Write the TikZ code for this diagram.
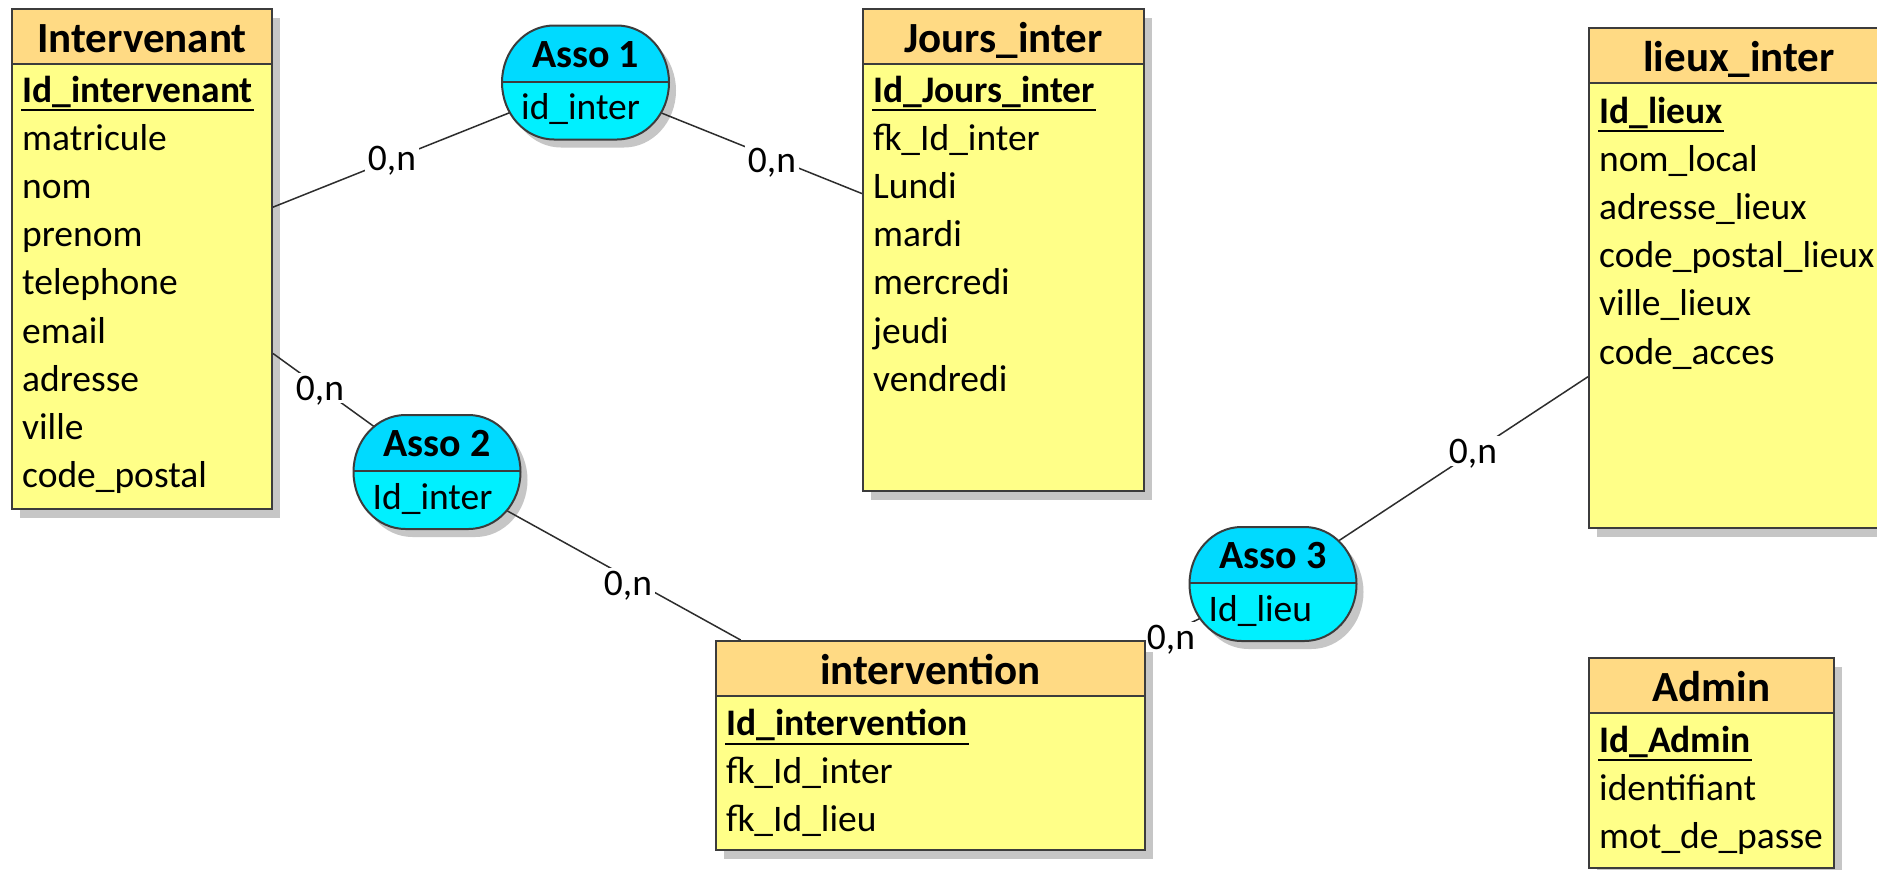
\documentclass[tikz,border=0pt]{standalone}
\usepackage{fontspec}
\setmainfont{Carlito}
\usetikzlibrary{calc,shapes.misc}
\pgfdeclarelayer{shadowlayer}
\pgfdeclarelayer{linelayer}
\pgfsetlayers{shadowlayer,linelayer,main}
\definecolor{hdrc}{RGB}{255,218,132}
\definecolor{bodyc}{RGB}{255,255,136}
\definecolor{cyantop}{RGB}{0,218,255}
\definecolor{cyanbot}{RGB}{0,240,255}
\definecolor{shadowc}{RGB}{198,198,198}
\definecolor{edgec}{RGB}{60,60,60}
\definecolor{linec}{RGB}{45,45,45}
\tikzset{
 entbox/.style={draw=edgec, line width=2pt, fill=bodyc, inner sep=0pt},
 hdrbox/.style={draw=edgec, line width=2pt, fill=hdrc},
 hdrtxt/.style={font=\fontsize{43}{50}\selectfont\bfseries, inner sep=0pt, text height=27.7pt, text depth=0pt},
 rowtxt/.style={font=\fontsize{37.5}{45}\selectfont, inner sep=0pt, text height=24pt, text depth=0pt, anchor=west},
 pktxt/.style={rowtxt, font=\fontsize{37.5}{45}\selectfont\bfseries},
 ulline/.style={draw=black, line width=2pt},
 assonode/.style={rounded rectangle, minimum width=167pt, minimum height=114pt, inner sep=0pt, draw=none},
 assottl/.style={font=\fontsize{40}{48}\selectfont\bfseries, inner sep=0pt, text height=25.8pt, text depth=0pt},
 assoedge/.style={draw=edgec, line width=2pt},
 conn/.style={draw=linec, line width=1.5pt},
 card/.style={font=\fontsize{37.5}{45}\selectfont, fill=white, inner sep=3pt, text height=24pt, text depth=0pt},
}
\def\assopath{(-31.5,-57) -- (31.5,-57) .. controls (60.2,-57) and (83.5,-31.48) .. (83.5,0) .. controls (83.5,31.48) and (60.2,57) .. (31.5,57) -- (-31.5,57) .. controls (-60.2,57) and (-83.5,31.48) .. (-83.5,0) .. controls (-83.5,-31.48) and (-60.2,-57) .. (-31.5,-57) -- cycle}
\newcommand\mkent[7]{%
  \node[entbox, minimum width={(#4-#2)*1pt}, minimum height={(#6-#3)*1pt}] (#1) at ({(#2+#4)/2},{(#3+#6)/2}) {};
  \path[hdrbox] (#2,#3) rectangle (#4,#5);
  \node[hdrtxt] (#1-t) at ({(#2+#4)/2},{#3+29.5}) {#7};
  \begin{pgfonlayer}{shadowlayer}
    \fill[shadowc] ({#2+8},{#3+9}) rectangle ({#4+8},{#6+9});
  \end{pgfonlayer}
}
\newcommand\mkpk[4]{%
  \node[pktxt] (#1) at (#2,#3) {#4};
  \draw[ulline] ($(#1.west)+(-1,20)$) -- ($(#1.east)+(1,20)$);
}
\newcommand\mkasso[5]{%
  \node[assonode] (#1) at (#2,#3) {};
  \begin{pgfonlayer}{shadowlayer}
    \begin{scope}[shift={({#2+7},{#3+8})}]
      \fill[shadowc] \assopath;
    \end{scope}
  \end{pgfonlayer}
  \begin{scope}[shift={(#2,#3)}]
    \begin{scope}
      \clip \assopath;
      \fill[cyantop] (-90,-60) rectangle (90,-1);
      \fill[cyanbot] (-90,-1) rectangle (90,60);
    \end{scope}
    \draw[assoedge] \assopath;
    \draw[assoedge] (-83.5,-1) -- (83.5,-1);
  \end{scope}
  \node[assottl] (#1-t) at (#2,{#3-28}) {#4};
  \node[rowtxt] (#1-a) at ({#2-64.5},{#3+25}) {#5};
}
\begin{document}
\begin{tikzpicture}[x=1pt,y=-1pt]
\begin{pgfonlayer}{shadowlayer}
\fill[white] (0,0) rectangle (1877,870);
\end{pgfonlayer}
\useasboundingbox (0,0) rectangle (1877,870);

% Intervenant
\mkent{int}{12}{9}{272}{64}{509}{Intervenant}
\mkpk{int-1}{22}{90}{Id\_intervenant}
\node[rowtxt] (int-2) at (22,138.2) {matricule};
\node[rowtxt] (int-3) at (22,186.4) {nom};
\node[rowtxt] (int-4) at (22,234.6) {prenom};
\node[rowtxt] (int-5) at (22,282.8) {telephone};
\node[rowtxt] (int-6) at (22,331.0) {email};
\node[rowtxt] (int-7) at (22,379.2) {adresse};
\node[rowtxt] (int-8) at (22,427.4) {ville};
\node[rowtxt] (int-9) at (22,475.6) {code\_postal};

% Jours_inter
\mkent{jours}{863}{9}{1144}{64}{491}{Jours\_inter}
\mkpk{jours-1}{873}{90}{Id\_Jours\_inter}
\node[rowtxt] (jours-2) at (873,138.2) {fk\_Id\_inter};
\node[rowtxt] (jours-3) at (873,186.4) {Lundi};
\node[rowtxt] (jours-4) at (873,234.6) {mardi};
\node[rowtxt] (jours-5) at (873,282.8) {mercredi};
\node[rowtxt] (jours-6) at (873,331.0) {jeudi};
\node[rowtxt] (jours-7) at (873,379.2) {vendredi};

% lieux_inter
\mkent{lieux}{1589}{28}{1889}{83}{528}{lieux\_inter}
\mkpk{lieux-1}{1599}{111}{Id\_lieux}
\node[rowtxt] (lieux-2) at (1599,159.2) {nom\_local};
\node[rowtxt] (lieux-3) at (1599,207.4) {adresse\_lieux};
\node[rowtxt] (lieux-4) at (1599,255.6) {code\_postal\_lieux};
\node[rowtxt] (lieux-5) at (1599,303.8) {ville\_lieux};
\node[rowtxt] (lieux-6) at (1599,352.0) {code\_acces};

% intervention
\mkent{interv}{716}{641}{1145}{696}{850}{intervention}
\mkpk{interv-1}{726}{723.5}{Id\_intervention}
\node[rowtxt] (interv-2) at (726,771.7) {fk\_Id\_inter};
\node[rowtxt] (interv-3) at (726,819.9) {fk\_Id\_lieu};

% Admin
\mkent{admin}{1589}{658}{1834}{713}{868}{Admin}
\mkpk{admin-1}{1599}{740}{Id\_Admin}
\node[rowtxt] (admin-2) at (1599,788.2) {identifiant};
\node[rowtxt] (admin-3) at (1599,836.4) {mot\_de\_passe};

% Associations
\mkasso{a1}{585.5}{82.5}{Asso 1}{id\_inter}
\mkasso{a2}{437}{472}{Asso 2}{Id\_inter}
\mkasso{a3}{1273}{584}{Asso 3}{Id\_lieu}

% Connectors
\begin{pgfonlayer}{linelayer}
\draw[conn] (int) -- (a1);
\draw[conn] (a1) -- (jours);
\draw[conn] (int) -- (a2);
\draw[conn] (a2) -- (interv);
\draw[conn] (interv) -- (a3);
\draw[conn] (a3) -- (lieux);
\node[card] (c1) at (392,158) {0,n};
\node[card] (c2) at (772,160) {0,n};
\node[card] (c3) at (320,388) {0,n};
\node[card] (c4) at (628,583) {0,n};
\node[card] (c5) at (1171,637) {0,n};
\node[card] (c6) at (1473,451) {0,n};
\end{pgfonlayer}
\end{tikzpicture}
\end{document}
